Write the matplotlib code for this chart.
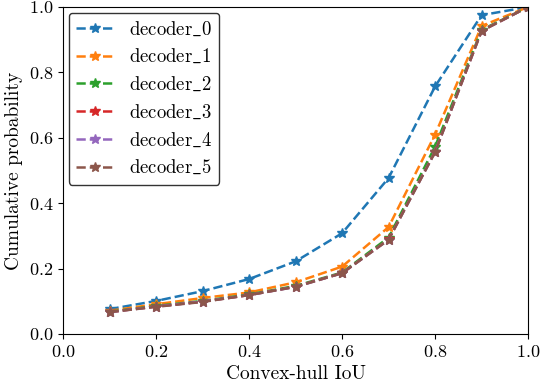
import matplotlib
matplotlib.use('Agg')
import matplotlib.pyplot as plt

# Convex-hull IoU thresholds
iou = [0.1, 0.2, 0.3, 0.4, 0.5, 0.6, 0.7, 0.8, 0.9, 1.0]

# Cumulative probability per decoder
decoder_0 = [0.076, 0.101, 0.131, 0.168, 0.222, 0.308, 0.477, 0.757, 0.975, 1.0]
decoder_1 = [0.071, 0.091, 0.110, 0.127, 0.158, 0.206, 0.327, 0.610, 0.942, 1.0]
decoder_2 = [0.068, 0.086, 0.101, 0.121, 0.147, 0.188, 0.295, 0.573, 0.930, 1.0]
decoder_3 = [0.067, 0.084, 0.099, 0.119, 0.145, 0.186, 0.289, 0.558, 0.927, 1.0]
decoder_4 = [0.067, 0.084, 0.099, 0.119, 0.144, 0.186, 0.288, 0.557, 0.927, 1.0]
decoder_5 = [0.067, 0.083, 0.098, 0.119, 0.144, 0.186, 0.288, 0.556, 0.927, 1.0]
series = [decoder_0, decoder_1, decoder_2, decoder_3, decoder_4, decoder_5]
labels = [r'$\mathrm{decoder\_%d}$' % i for i in range(6)]

plt.rcParams['font.family'] = ['cmr10', 'DejaVu Serif']
plt.rcParams['mathtext.fontset'] = 'cm'
plt.rcParams['axes.formatter.use_mathtext'] = True
plt.rcParams['font.size'] = 14

fig = plt.figure(figsize=(5.4, 3.82), dpi=100)
ax = fig.add_axes([0.1167, 0.1257, 0.8613, 0.856])

for ys, lab in zip(series, labels):
    ax.plot(iou, ys, linestyle='--', marker='*', markersize=7.5, lw=1.8, label=lab)

ax.set_xlim(0, 1)
ax.set_ylim(0, 1)
ax.set_xlabel('Convex-hull IoU')
ax.set_ylabel('Cumulative probability')
ax.tick_params(labelsize=13)

leg = ax.legend(loc='upper left', fancybox=True, framealpha=1, fontsize=13.5,
                handlelength=2.0, labelspacing=0.5, borderaxespad=0.3)
leg.get_frame().set_edgecolor('0.2')

fig.savefig('out.png', dpi=100)
